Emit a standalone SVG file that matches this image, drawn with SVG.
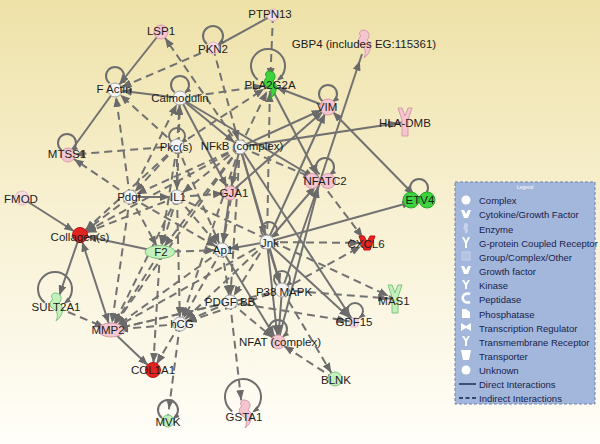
<svg xmlns="http://www.w3.org/2000/svg" xmlns:xlink="http://www.w3.org/1999/xlink" width="600" height="444" viewBox="0 0 600 444">
<defs>
<linearGradient id="bg" x1="0" y1="0" x2="0" y2="1">
<stop offset="0" stop-color="#eee2a8"/>
<stop offset="0.5" stop-color="#f8f1d4"/>
<stop offset="1" stop-color="#fffef9"/>
</linearGradient>
<marker id="a" viewBox="0 0 10 8" markerWidth="10" markerHeight="8" refX="17" refY="4" orient="auto-start-reverse" markerUnits="userSpaceOnUse">
<path d="M0,0 L10,4 L0,8 Z" fill="#6a6a6a"/>
</marker>
<marker id="l" viewBox="0 0 8 6" markerWidth="7" markerHeight="6" refX="6" refY="3" orient="auto" markerUnits="userSpaceOnUse">
<path d="M0,0 L8,3 L0,6 Z" fill="#6a6a6a"/>
</marker>
<path id="enz" d="M-1,-14 C5,-14 7,-8 3,-4 C8,-1 8,8 0,14 C3,8 1,3 -4,1 C-7,-1 -6,-6 -3,-8 C-6,-10 -4,-14 -1,-14 Z"/>
<path id="ysh" d="M-7,-14 L-3,-14 L0,-6 L3,-14 L7,-14 L3,-2 L3,14 L-3,14 L-3,-2 Z"/>
</defs>
<style>
.s{fill:none;stroke:#727272;stroke-width:2}
.d{fill:none;stroke:#727272;stroke-width:2;stroke-dasharray:8,5}
.lp{fill:none;stroke:#6e6e6e;stroke-width:2}
.pk{fill:#f4c6cf;stroke:#d79aa9;stroke-width:1}
.pk2{fill:#f8dde2;stroke:#e2b6c0;stroke-width:1}
.rd{fill:#e32222;stroke:#c21212;stroke-width:1}
.gn{fill:#3ed23e;stroke:#26a826;stroke-width:1}
.lg{fill:#c4f0bd;stroke:#7cc67c;stroke-width:1}
.wt{fill:#f4f4f4;stroke:#a4a4a4;stroke-width:1}
.lbl{font-family:"Liberation Sans",Arial,sans-serif;font-size:11.5px;fill:#1c1c1c;text-anchor:middle;dominant-baseline:central}
.lt{font-family:"Liberation Sans",Arial,sans-serif;font-size:9.5px;fill:#17214a;dominant-baseline:central}
.li{fill:#ffffff;stroke:none}
</style>
<rect x="0" y="0" width="600" height="444" fill="url(#bg)"/>

<g id="connectors">
<!-- solid -->
<path class="s" marker-end="url(#a)" d="M161,32 L115,90"/>
<path class="s" marker-end="url(#a)" d="M180,98 L115,90"/>
<path class="s" d="M115,90 L68,155"/>
<path class="s" d="M273,15 L213,48"/>
<path class="s" marker-end="url(#a)" d="M328,107 L270,85"/>
<path class="s" marker-end="url(#a)" d="M240,147 L328,107"/>
<path class="s" marker-end="url(#a)" d="M267,242 L328,107"/>
<path class="s" marker-start="url(#a)" marker-end="url(#a)" d="M328,107 L419,200"/>
<path class="s" marker-end="url(#a)" d="M240,147 L405,122"/>
<path class="s" marker-end="url(#a)" d="M180,98 L240,147"/>
<path class="s" marker-end="url(#a)" d="M180,98 L320,181"/>
<path class="s" marker-end="url(#a)" d="M270,85 L320,181"/>
<path class="s" marker-end="url(#a)" d="M267,242 L320,181"/>
<path class="s" marker-end="url(#a)" d="M282,290 L320,181"/>
<path class="s" marker-end="url(#a)" d="M278,342 L320,181"/>
<path class="s" marker-end="url(#a)" d="M320,181 L362,54"/>
<path class="s" marker-end="url(#a)" d="M267,242 L419,200"/>
<path class="s" marker-end="url(#a)" d="M240,147 L230,193"/>
<path class="s" marker-end="url(#a)" d="M180,98 L230,193"/>
<path class="s" marker-end="url(#a)" d="M230,193 L222,250"/>
<path class="s" marker-end="url(#a)" d="M267,242 L222,250"/>
<path class="s" marker-end="url(#a)" d="M130,197 L177,197"/>
<path class="s" marker-end="url(#a)" d="M22,198 L80,235"/>
<path class="s" marker-end="url(#a)" d="M160,252 L80,235"/>
<path class="s" marker-start="url(#a)" marker-end="url(#a)" d="M111,330 L80,235"/>
<path class="s" marker-end="url(#a)" d="M80,235 L57,302"/>
<path class="s" marker-end="url(#a)" d="M111,330 L153,370"/>
<path class="s" marker-end="url(#a)" d="M240,147 L354,322"/>
<path class="s" marker-end="url(#a)" d="M282,290 L278,342"/>
<path class="s" marker-end="url(#a)" d="M267,242 L278,342"/>
<path class="s" marker-end="url(#a)" d="M267,242 L282,290"/>
<path class="s" marker-end="url(#a)" d="M240,147 L267,242"/>
<path class="s" marker-end="url(#a)" d="M240,147 L282,290"/>
<path class="s" marker-end="url(#a)" d="M267,242 L354,322"/>
<path class="s" marker-end="url(#a)" d="M230,193 L328,107"/>
<path class="s" marker-end="url(#a)" d="M222,250 L278,342"/>
<!-- dashed -->
<path class="d" marker-end="url(#a)" d="M240,147 L161,32"/>
<path class="d" marker-end="url(#a)" d="M213,48 L115,90"/>
<path class="d" marker-end="url(#a)" d="M130,197 L115,90"/>
<path class="d" marker-end="url(#a)" d="M177,146 L115,90"/>
<path class="d" marker-end="url(#a)" d="M213,48 L240,147"/>
<path class="d" marker-end="url(#a)" d="M273,15 L270,85"/>
<path class="d" marker-end="url(#a)" d="M180,98 L270,85"/>
<path class="d" marker-end="url(#a)" d="M240,147 L270,85"/>
<path class="d" marker-end="url(#a)" d="M177,146 L270,85"/>
<path class="d" marker-end="url(#a)" d="M267,242 L270,85"/>
<path class="d" marker-end="url(#a)" d="M177,146 L180,98"/>
<path class="d" marker-end="url(#a)" d="M177,197 L180,98"/>
<path class="d" marker-end="url(#a)" d="M130,197 L180,98"/>
<path class="d" marker-end="url(#a)" d="M177,146 L68,155"/>
<path class="d" marker-end="url(#a)" d="M130,197 L68,155"/>
<path class="d" marker-end="url(#a)" d="M240,147 L130,197"/>
<path class="d" marker-end="url(#a)" d="M240,147 L177,197"/>
<path class="d" marker-end="url(#a)" d="M177,146 L177,197"/>
<path class="d" marker-end="url(#a)" d="M177,146 L130,197"/>
<path class="d" marker-end="url(#a)" d="M177,197 L230,193"/>
<path class="d" marker-end="url(#a)" d="M240,147 L222,250"/>
<path class="d" marker-end="url(#a)" d="M177,146 L222,250"/>
<path class="d" marker-end="url(#a)" d="M240,147 L160,252"/>
<path class="d" marker-end="url(#a)" d="M177,146 L160,252"/>
<path class="d" marker-end="url(#a)" d="M130,197 L160,252"/>
<path class="d" marker-end="url(#a)" d="M177,197 L160,252"/>
<path class="d" marker-end="url(#a)" d="M240,147 L80,235"/>
<path class="d" marker-end="url(#a)" d="M177,146 L80,235"/>
<path class="d" marker-end="url(#a)" d="M130,197 L80,235"/>
<path class="d" marker-end="url(#a)" d="M177,197 L80,235"/>
<path class="d" marker-end="url(#a)" d="M160,252 L222,250"/>
<path class="d" marker-end="url(#a)" d="M240,147 L320,181"/>
<path class="d" marker-end="url(#a)" d="M320,181 L367,243"/>
<path class="d" marker-end="url(#a)" d="M267,242 L367,243"/>
<path class="d" marker-end="url(#a)" d="M282,290 L367,243"/>
<path class="d" marker-end="url(#a)" d="M282,290 L395,299"/>
<path class="d" marker-end="url(#a)" d="M177,197 L395,299"/>
<path class="d" marker-end="url(#a)" d="M230,302 L354,322"/>
<path class="d" marker-end="url(#a)" d="M282,290 L335,379"/>
<path class="d" marker-end="url(#a)" d="M335,379 L278,342"/>
<path class="d" marker-end="url(#a)" d="M230,302 L278,342"/>
<path class="d" marker-end="url(#a)" d="M230,302 L242,407"/>
<path class="d" marker-end="url(#a)" d="M180,324 L168,416"/>
<path class="d" marker-end="url(#a)" d="M180,324 L153,370"/>
<path class="d" marker-end="url(#a)" d="M160,252 L153,370"/>
<path class="d" marker-end="url(#a)" d="M180,324 L111,330"/>
<path class="d" marker-end="url(#a)" d="M56,307 L111,330"/>
<path class="d" marker-end="url(#a)" d="M130,197 L111,330"/>
<path class="d" marker-end="url(#a)" d="M177,197 L111,330"/>
<path class="d" marker-end="url(#a)" d="M160,252 L111,330"/>
<path class="d" marker-end="url(#a)" d="M222,250 L111,330"/>
<path class="d" marker-end="url(#a)" d="M267,242 L111,330"/>
<path class="d" marker-end="url(#a)" d="M230,302 L111,330"/>
<path class="d" marker-end="url(#a)" d="M282,290 L180,324"/>
<path class="d" marker-end="url(#a)" d="M267,242 L180,324"/>
<path class="d" marker-end="url(#a)" d="M222,250 L180,324"/>
<path class="d" marker-end="url(#a)" d="M230,302 L180,324"/>
<path class="d" marker-end="url(#a)" d="M240,147 L180,324"/>
<path class="d" marker-end="url(#a)" d="M177,197 L222,250"/>
<path class="d" marker-end="url(#a)" d="M130,197 L222,250"/>
<path class="d" marker-end="url(#a)" d="M222,250 L230,302"/>
<path class="d" marker-end="url(#a)" d="M267,242 L230,302"/>
<path class="d" marker-end="url(#a)" d="M240,147 L111,330"/>
<path class="d" marker-end="url(#a)" d="M177,197 L180,324"/>
<path class="d" marker-end="url(#a)" d="M282,290 L111,330"/>
<path class="d" marker-end="url(#a)" d="M240,147 L230,302"/>
<!-- self loops -->
<path class="lp" marker-end="url(#l)" d="M109.6,83.2 A9,9 0 1 1 120.4,83.2"/>
<path class="lp" marker-end="url(#l)" d="M174.6,92.2 A9,9 0 1 1 185.4,92.2"/>
<path class="lp" marker-end="url(#l)" d="M207,44 A10,10 0 1 1 219,44"/>
<path class="lp" marker-end="url(#l)" d="M257.8,79.6 A17,17 0 1 1 278.2,79.6"/>
<path class="lp" marker-end="url(#l)" d="M322.6,101.2 A9,9 0 1 1 333.4,101.2"/>
<path class="lp" marker-end="url(#l)" d="M61.6,150.2 A9,9 0 1 1 72.4,150.2"/>
<path class="lp" marker-end="url(#l)" d="M172.2,142.4 A8,8 0 1 1 181.8,142.4"/>
<path class="lp" marker-end="url(#l)" d="M319.6,174.2 A9,9 0 1 1 330.4,174.2"/>
<path class="lp" marker-end="url(#l)" d="M413.6,195.2 A9,9 0 1 1 424.4,195.2"/>
<path class="lp" marker-end="url(#l)" d="M44.8,302.6 A17,17 0 1 1 65.2,302.6"/>
<path class="lp" marker-end="url(#l)" d="M264.2,236.4 A8,8 0 1 1 273.8,236.4"/>
<path class="lp" marker-end="url(#l)" d="M277.2,285.4 A8,8 0 1 1 286.8,285.4"/>
<path class="lp" marker-end="url(#l)" d="M350.2,317.4 A8,8 0 1 1 359.8,317.4"/>
<path class="lp" marker-end="url(#l)" d="M272.6,336.2 A9,9 0 1 1 283.4,336.2"/>
<path class="lp" marker-end="url(#l)" d="M162,418 A10,10 0 1 1 174,418"/>
<path class="lp" marker-end="url(#l)" d="M232.2,411.4 A18,18 0 1 1 253.8,411.4"/>
</g>

<g id="node-LSP1"><circle class="pk" cx="161" cy="32" r="7"/><text class="lbl" x="161" y="31">LSP1</text></g>
<g id="node-PTPN13"><circle class="pk2" cx="273" cy="15" r="6"/><text class="lbl" x="270" y="14">PTPN13</text></g>
<g id="node-PKN2"><circle class="pk2" cx="213" cy="48" r="6"/><text class="lbl" x="213" y="49">PKN2</text></g>
<g id="node-GBP4"><use href="#enz" class="pk" transform="translate(364,44)"/><text class="lbl" x="364" y="44">GBP4 (includes EG:115361)</text></g>
<g id="node-FActin"><circle class="wt" cx="115" cy="90" r="7"/><text class="lbl" x="114" y="89">F Actin</text></g>
<g id="node-Calmodulin"><circle class="wt" cx="180" cy="98" r="7"/><text class="lbl" x="180" y="98">Calmodulin</text></g>
<g id="node-PLA2G2A"><use href="#enz" class="gn" transform="translate(270,85)"/><text class="lbl" x="270" y="85">PLA2G2A</text></g>
<g id="node-VIM"><circle class="pk" cx="328" cy="107" r="8"/><text class="lbl" x="327" y="107">VIM</text></g>
<g id="node-HLADMB"><use href="#ysh" class="pk" transform="translate(405,122)"/><text class="lbl" x="405" y="123">HLA-DMB</text></g>
<g id="node-MTSS1"><circle class="pk" cx="68" cy="155" r="7"/><text class="lbl" x="67" y="154">MTSS1</text></g>
<g id="node-Pkcs"><circle class="wt" cx="177" cy="146" r="7"/><text class="lbl" x="176" y="147">Pkc(s)</text></g>
<g id="node-NFkB"><circle class="wt" cx="240" cy="147" r="7"/><text class="lbl" x="242" y="146">NFkB (complex)</text></g>
<g id="node-NFATC2"><circle class="pk" cx="312" cy="181" r="7.5"/><circle class="pk" cx="328" cy="181" r="7.5"/><circle fill="#f4c6cf" cx="312" cy="181" r="6.8"/><circle fill="#f4c6cf" cx="328" cy="181" r="6.8"/><text class="lbl" x="325" y="181">NFATC2</text></g>
<g id="node-FMOD"><circle class="pk2" cx="22" cy="198" r="7"/><text class="lbl" x="21" y="199">FMOD</text></g>
<g id="node-Pdgf"><circle class="wt" cx="130" cy="197" r="7"/><text class="lbl" x="129" y="197">Pdgf</text></g>
<g id="node-IL1"><circle class="wt" cx="177" cy="197" r="7"/><text class="lbl" x="178" y="197">IL1</text></g>
<g id="node-GJA1"><circle class="pk" cx="230" cy="193" r="7"/><text class="lbl" x="234" y="193">GJA1</text></g>
<g id="node-ETV4"><circle class="gn" cx="411" cy="200" r="8"/><circle class="gn" cx="427" cy="200" r="8"/><circle fill="#3ed23e" cx="411" cy="200" r="7.3"/><circle fill="#3ed23e" cx="427" cy="200" r="7.3"/><text class="lbl" x="420" y="200">ETV4</text></g>
<g id="node-Collagen"><circle class="rd" cx="80" cy="235" r="7.5"/><text class="lbl" x="80" y="237">Collagen(s)</text></g>
<g id="node-F2"><ellipse class="lg" cx="160" cy="252" rx="15" ry="6.5"/><text class="lbl" x="161" y="252">F2</text></g>
<g id="node-Ap1"><circle class="wt" cx="222" cy="250" r="7"/><text class="lbl" x="223" y="250">Ap1</text></g>
<g id="node-Jnk"><circle class="wt" cx="267" cy="242" r="7"/><text class="lbl" x="270" y="243">Jnk</text></g>
<g id="node-CXCL6"><path class="rd" d="M359,236 L364,236 L367,242 L370,236 L375,236 L370,250 L364,250 Z"/><text class="lbl" x="366" y="244">CXCL6</text></g>
<g id="node-SULT2A1"><use href="#enz" class="lg" transform="translate(56,307)"/><text class="lbl" x="56" y="307">SULT2A1</text></g>
<g id="node-PDGFBB"><circle class="wt" cx="230" cy="302" r="7"/><text class="lbl" x="230" y="302">PDGF BB</text></g>
<g id="node-P38"><circle class="wt" cx="282" cy="290" r="7"/><text class="lbl" x="284" y="292">P38 MAPK</text></g>
<g id="node-MAS1"><use href="#ysh" class="lg" transform="translate(395,299)"/><text class="lbl" x="394" y="301">MAS1</text></g>
<g id="node-MMP2"><ellipse class="pk" cx="111" cy="330" rx="13" ry="7"/><text class="lbl" x="108" y="330">MMP2</text></g>
<g id="node-hCG"><circle class="wt" cx="180" cy="324" r="7"/><text class="lbl" x="182" y="324">hCG</text></g>
<g id="node-GDF15"><rect class="pk2" x="350" y="318" width="8" height="9" rx="2"/><text class="lbl" x="354" y="322">GDF15</text></g>
<g id="node-NFAT"><circle class="pk" cx="278" cy="342" r="7"/><text class="lbl" x="280" y="342">NFAT (complex)</text></g>
<g id="node-COL1A1"><circle class="rd" cx="153" cy="370" r="7.5"/><text class="lbl" x="153" y="370">COL1A1</text></g>
<g id="node-BLNK"><circle class="lg" cx="335" cy="379" r="7"/><text class="lbl" x="336" y="380">BLNK</text></g>
<g id="node-MVK"><circle class="lg" cx="168" cy="421" r="6"/><text class="lbl" x="168" y="422">MVK</text></g>
<g id="node-GSTA1"><use href="#enz" class="pk" transform="translate(245,414)"/><text class="lbl" x="244" y="417">GSTA1</text></g>

<g id="legend">
<rect x="455" y="182" width="140" height="222" fill="#a3b7dc" stroke="#6e80a8" stroke-width="1" stroke-dasharray="3,2"/>
<text x="525" y="187" font-family="Liberation Sans,Arial,sans-serif" font-size="5" fill="#ffffff" text-anchor="middle" dominant-baseline="central">Legend</text>
<circle class="li" cx="466" cy="200" r="4.5"/>
<path class="li" d="M461,210 L464,210 L466,214 L468,210 L471,210 L468,218 L464,218 Z"/>
<path d="M465,223 C468,223 469,226 467,228 C469,230 468,233 465,234 C466,231 464,229 463,228 C465,227 463,224 465,223 Z" fill="#c8d4ec"/>
<path class="li" d="M462,237 L464,237 L466,241 L468,237 L470,237 L467,243 L467,248 L465,248 L465,243 Z"/>
<rect x="462" y="252" width="8" height="8" fill="#b4c4e2" stroke="#c8d4ec" stroke-width="0.8"/>
<path class="li" d="M461,266 L464,266 L466,270 L468,266 L471,266 L468,274 L464,274 Z"/>
<path class="li" d="M462,280 L464,280 L466,283 L468,280 L470,280 L467,285 L467,289 L465,289 L465,285 Z"/>
<path d="M470,294 A5,4.5 0 1 0 470,302" fill="none" stroke="#ffffff" stroke-width="2.5"/>
<path class="li" d="M462,309 L466,309 L470,312 L470,318 L462,318 Z"/>
<path class="li" d="M461,323 L466,326 L471,323 L471,331 L466,328 L461,331 Z"/>
<path class="li" d="M462,336 L464,336 L466,339 L468,336 L470,336 L467,341 L467,346 L465,346 L465,341 Z"/>
<path class="li" d="M461,350 L471,350 L469,360 L463,360 Z"/>
<circle class="li" cx="466" cy="370" r="4.5"/>
<path d="M459,384 L476,384" stroke="#17214a" stroke-width="1.4"/>
<path d="M459,398 L476,398" stroke="#17214a" stroke-width="1.4" stroke-dasharray="4,2.5"/>
<text class="lt" x="479" y="200">Complex</text>
<text class="lt" x="479" y="214">Cytokine/Growth Factor</text>
<text class="lt" x="479" y="229">Enzyme</text>
<text class="lt" x="479" y="243">G-protein Coupled Receptor</text>
<text class="lt" x="479" y="257">Group/Complex/Other</text>
<text class="lt" x="479" y="271">Growth factor</text>
<text class="lt" x="479" y="285">Kinase</text>
<text class="lt" x="479" y="299">Peptidase</text>
<text class="lt" x="479" y="314">Phosphatase</text>
<text class="lt" x="479" y="328">Transcription Regulator</text>
<text class="lt" x="479" y="342">Transmembrane Receptor</text>
<text class="lt" x="479" y="356">Transporter</text>
<text class="lt" x="479" y="370">Unknown</text>
<text class="lt" x="479" y="384">Direct Interactions</text>
<text class="lt" x="479" y="398">Indirect Interactions</text>
</g>
</svg>
